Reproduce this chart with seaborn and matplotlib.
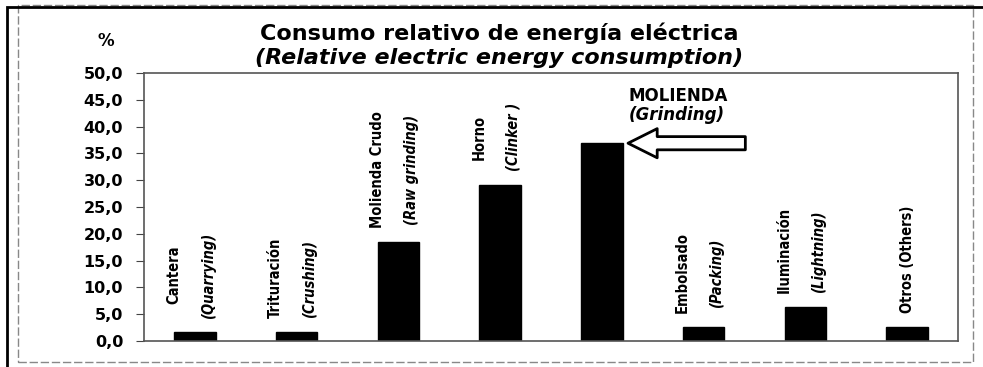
import matplotlib
matplotlib.use("Agg")
import matplotlib.pyplot as plt
import seaborn as sns
import pandas as pd
from matplotlib.patches import Rectangle
from matplotlib import font_manager

# ---- data ----
categories_es = ["Cantera", "Trituración", "Molienda Crudo", "Horno", "Molienda",
                 "Embolsado", "Iluminación", "Otros"]
categories_en = ["(Quarrying)", "(Crushing)", "(Raw grinding)", "(Clinker )", "(Grinding)",
                 "(Packing)", "(Lightning)", "(Others)"]
values = [1.7, 1.7, 18.5, 29.1, 36.9, 2.6, 6.3, 2.6]
yticks = [0, 5, 10, 15, 20, 25, 30, 35, 40, 45, 50]
ytick_labels = ["0,0", "5,0", "10,0", "15,0", "20,0", "25,0", "30,0", "35,0", "40,0", "45,0", "50,0"]
title_line1 = "Consumo relativo de energía eléctrica"
title_line2 = "(Relative electric energy consumption)"
highlight_es = "MOLIENDA"
highlight_en = "(Grinding)"
highlight_index = 4

df = pd.DataFrame({"cat": categories_es, "val": values})

sns.set_style("white")
plt.rcParams["font.family"] = ["DejaVu Sans"]
plt.rcParams["text.color"] = "black"
plt.rcParams["ytick.color"] = "black"
plt.rcParams["xtick.color"] = "black"

# choose a narrow font for the bar labels if one is available
installed = {(f.name, f.stretch, f.weight) for f in font_manager.fontManager.ttflist}
names = {n for n, _, _ in installed}
if "Liberation Sans Narrow" in names:
    lab_font = dict(family=["Liberation Sans Narrow", "DejaVu Sans"], fontsize=13.5,
                    fontweight="bold")
elif any(n == "DejaVu Sans" and "condensed" in str(s) for n, s, _ in installed):
    lab_font = dict(family=["DejaVu Sans"], fontstretch="condensed", fontsize=10.5,
                    fontweight="bold")
else:
    lab_font = dict(family=["Liberation Sans", "DejaVu Sans"], fontsize=11.5)

fig = plt.figure(figsize=(9.83, 3.67), dpi=100)
ax = fig.add_axes([144 / 983, 26 / 367, 814 / 983, 268 / 367])

sns.barplot(data=df, x="cat", y="val", color="black", width=0.41, ax=ax,
            saturation=1, edgecolor="black")

ax.set_xlim(-0.5, len(categories_es) - 0.5)
ax.set_ylim(0, 50)
ax.set_yticks(yticks)
ax.set_yticklabels(ytick_labels, fontsize=11.5, fontweight="bold")
ax.set_xticks([])
ax.set_xlabel("")
ax.set_ylabel("")
ax.tick_params(axis="y", direction="out", length=6, width=0.8, color="#444444", pad=9,
               left=True)
for s in ax.spines.values():
    s.set_color("#555555")
    s.set_linewidth(1.2)
    s.set_visible(True)

base_off = 10  # points above bar top
pairs = []
for i, (es, en, v) in enumerate(zip(categories_es, categories_en, values)):
    if i == highlight_index:
        continue
    if en == "(Others)":
        ax.annotate(es + " " + en, xy=(i, v), xytext=(0, base_off),
                    textcoords="offset points", rotation=90, ha="center",
                    va="bottom", **lab_font)
    else:
        t1 = ax.annotate(es, xy=(i - 0.21, v), xytext=(0, base_off),
                         textcoords="offset points", rotation=90, ha="center",
                         va="bottom", **lab_font)
        t2 = ax.annotate(en, xy=(i + 0.13, v), xytext=(0, base_off),
                         textcoords="offset points", rotation=90, ha="center",
                         va="bottom", style="italic", **lab_font)
        pairs.append((t1, t2))

# center the two label lines on each other (longest one sits at the base offset)
fig.canvas.draw()
r = fig.canvas.get_renderer()
for t1, t2 in pairs:
    h1 = t1.get_window_extent(r).height
    h2 = t2.get_window_extent(r).height
    shift = abs(h1 - h2) / 2 * 72 / fig.dpi
    short = t1 if h1 < h2 else t2
    short.set_position((0, base_off + shift))

# highlight annotation
hv = values[highlight_index]
ax.annotate("", xy=(highlight_index + 0.257, hv), xytext=(highlight_index + 1.41, hv),
            arrowprops=dict(arrowstyle="simple,head_length=21,head_width=21,tail_width=9.5",
                            mutation_scale=1, fc="white", ec="black", lw=2,
                            shrinkA=0, shrinkB=0))
ax.text(highlight_index + 0.26, 45.7, highlight_es, fontsize=12, fontweight="bold",
        ha="left", va="center")
ax.text(highlight_index + 0.26, 42.2, highlight_en, fontsize=12, fontweight="bold",
        style="italic", ha="left", va="center")

# titles
fig.text(499 / 983, 1 - 33 / 367, title_line1, fontsize=16, fontweight="bold",
         ha="center", va="center")
fig.text(499 / 983, 1 - 58 / 367, title_line2, fontsize=16, fontweight="bold",
         style="italic", ha="center", va="center")
fig.text(106 / 983, 1 - 41 / 367, "%", fontsize=12, fontweight="bold",
         ha="center", va="center")

# frames
fig.patches.append(Rectangle((18 / 983, 5 / 367), 955 / 983, 357 / 367,
                             transform=fig.transFigure, fill=False, ec="#888888",
                             lw=1, ls=(0, (6, 2))))
fig.patches.append(Rectangle((7 / 983, -0.01), 1.1, 1 - 7 / 367 + 0.01,
                             transform=fig.transFigure, fill=False, ec="black", lw=2))

fig.savefig("out.png", dpi=100)
